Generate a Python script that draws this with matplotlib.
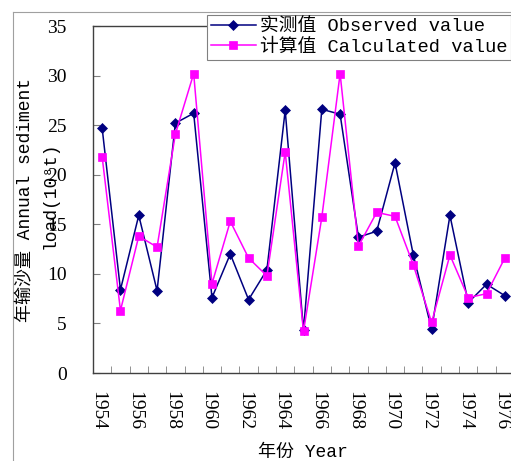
import numpy as np
import matplotlib
matplotlib.use('Agg')
import matplotlib.pyplot as plt
import matplotlib.transforms as mtransforms
from matplotlib.lines import Line2D
from matplotlib.ticker import FixedLocator

plt.rcParams['font.family'] = ['Liberation Mono', 'Noto Sans CJK SC', 'DejaVu Sans']

# data
years = list(range(1954, 1977))
observed = [24.7, 8.4, 15.9, 8.3, 25.2, 26.2, 7.6, 12.0, 7.4, 10.4, 26.5, 4.3,
            26.6, 26.1, 13.7, 14.3, 21.2, 11.9, 4.4, 15.9, 7.1, 8.95, 7.8]
calculated = [21.8, 6.3, 13.8, 12.7, 24.1, 30.2, 9.0, 15.3, 11.6, 9.8, 22.3, 4.2,
              15.7, 30.2, 12.8, 16.2, 15.8, 10.9, 5.1, 11.9, 7.6, 8.0, 11.6]
year_labels = [str(y) for y in range(1954, 1977, 2)]
y_ticks = [0, 5, 10, 15, 20, 25, 30, 35]

W, H = 511, 461
fig = plt.figure(figsize=(W / 100, H / 100), dpi=100)
ax = fig.add_axes([93 / W, 1 - 373 / H, (514 - 93) / W, (373 - 26) / H])

ax.plot(years, observed, color='#000080', lw=1.1, marker='D', ms=5.2,
        mec='#000080', mew=0.5, label='实测值 Observed value')
ax.plot(years, calculated, color='#FF00FF', lw=1.1, marker='s', ms=6.3,
        mec='#FF00FF', mew=0.5, label='计算值 Calculated value')

ax.set_xlim(1953.5, 1976.5)
ax.set_ylim(0, 35)

# x: ticks on category boundaries, labels every two years
ax.xaxis.set_minor_locator(FixedLocator(np.arange(1953.5, 1977, 1)))
ax.xaxis.set_major_locator(FixedLocator(range(1954, 1977, 2)))
ax.set_xticklabels(year_labels, rotation=-90, fontsize=14, family='Liberation Serif')
ax.tick_params(axis='x', which='major', length=0, pad=13)
ax.tick_params(axis='x', which='minor', direction='in', length=5, color='#808080')
# labels sit a little left of the category centres, as in the original
shift = mtransforms.ScaledTranslation(-4 / 100, 0, fig.dpi_scale_trans)
for lab in ax.get_xticklabels():
    lab.set_transform(lab.get_transform() + shift)

ax.set_yticks(y_ticks)
ax.set_yticklabels([str(v) for v in y_ticks], fontsize=14, family='Liberation Serif')
ax.tick_params(axis='y', direction='in', length=5, color='#808080', pad=19)

for s in ax.spines.values():
    s.set_color('#404040')
    s.set_linewidth(1.0)

# axis titles
fig.text(26 / W, 1 - 200 / H, '年输沙量 Annual sediment', rotation=90,
         ha='center', va='center', fontsize=13)
fig.text(50 / W, 1 - 195 / H, 'load(10⁸t)', rotation=90,
         ha='center', va='center', fontsize=13)
fig.text(303 / W, 1 - 452 / H, '年份 Year', ha='center', va='center', fontsize=13)

leg = ax.legend(loc='upper left', bbox_to_anchor=(207 / W, 1 - 15 / H),
                bbox_transform=fig.transFigure, fancybox=False, framealpha=1,
                edgecolor='#808080', borderpad=0.2, handlelength=2.4,
                handletextpad=0.2, labelspacing=0.15, fontsize=13.5,
                borderaxespad=0)
leg.get_frame().set_linewidth(0.8)

# outer chart frame
fig.add_artist(Line2D([12.5 / W, 12.5 / W], [0, 1 - 12.5 / H],
                      transform=fig.transFigure, color='#a0a0a0', lw=0.8))
fig.add_artist(Line2D([12.5 / W, 1], [1 - 12.5 / H, 1 - 12.5 / H],
                      transform=fig.transFigure, color='#a0a0a0', lw=0.8))

fig.savefig('out.png', dpi=100)
